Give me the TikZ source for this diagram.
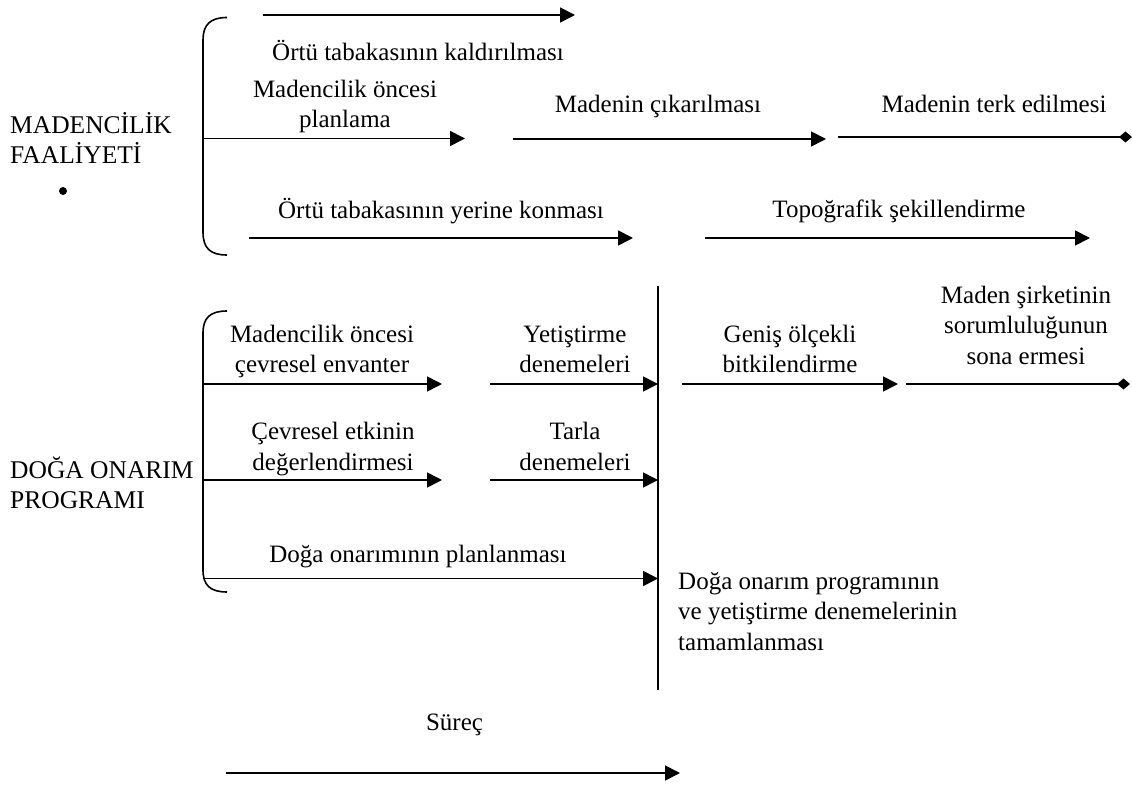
\documentclass[tikz,border=0pt]{standalone}
\usepackage{fontspec}
\setmainfont{Liberation Serif}
\usetikzlibrary{arrows.meta}
\begin{document}
\begin{tikzpicture}[x=1pt,y=-1pt,
  lbl/.style={font=\fontsize{25}{30.5}\selectfont, inner sep=0pt, anchor=base, align=center},
  side/.style={font=\fontsize{25.5}{30}\selectfont, inner sep=0pt, anchor=base west, align=left},
  arr/.style={line width=1.7pt, -{Triangle[length=15pt,width=15pt]}},
  dia/.style={line width=1.7pt, -{Diamond[length=13pt,width=11pt]}},
  brk/.style={line width=1.6pt},
  vline/.style={line width=1.1pt}]
\useasboundingbox (0,0) rectangle (1132,791);

% ---------- left titles ----------
\node[side] (mad) at (10,164) {MADENCİLİK\\FAALİYETİ};
\node[circle, fill, inner sep=0pt, minimum size=8pt] (dot) at (63,191) {};
\node[side] (dog) at (10,508) {DOĞA ONARIM\\PROGRAMI};

% ---------- brackets ----------
\coordinate (b1t) at (227,17.5);
\coordinate (b1b) at (227,255);
\draw[brk] (b1t) .. controls (210,17.5) and (203,25) .. (203,40) -- (203,232) .. controls (203,248) and (210,255) .. (b1b);
\coordinate (b2t) at (227,311);
\coordinate (b2b) at (227,592);
\draw[brk] (b2t) .. controls (210,311) and (203,318) .. (203,333) -- (203,570) .. controls (203,585) and (210,592) .. (b2b);

% ---------- upper section ----------
\coordinate (a1s) at (263,15);   \coordinate (a1e) at (575,15);
\draw[arr] (a1s) -- (a1e);
\node[lbl] (t1) at (418,61) {Örtü tabakasının kaldırılması};

\coordinate (a2s) at (203,138.5); \coordinate (a2e) at (465,138.5);
\draw[arr] (a2s) -- (a2e);
\node[lbl] (t2) at (345,128) {Madencilik öncesi\\planlama};

\coordinate (a3s) at (513,139); \coordinate (a3e) at (826,139);
\draw[arr] (a3s) -- (a3e);
\node[lbl] (t3) at (658,113) {Madenin çıkarılması};

\coordinate (a4s) at (838,137); \coordinate (a4e) at (1132,137);
\draw[dia] (a4s) -- (a4e);
\node[lbl] (t4) at (994,113) {Madenin terk edilmesi};

\coordinate (a5s) at (249,238); \coordinate (a5e) at (633,238);
\draw[arr] (a5s) -- (a5e);
\node[lbl] (t5) at (441,219) {Örtü tabakasının yerine konması};

\coordinate (a6s) at (705,238); \coordinate (a6e) at (1090,238);
\draw[arr] (a6s) -- (a6e);
\node[lbl] (t6) at (899,218) {Topoğrafik şekillendirme};

% ---------- lower section ----------
\coordinate (vt) at (658,286); \coordinate (vb) at (658,690);
\draw[vline] (vt) -- (vb);

\coordinate (b1s) at (203,384); \coordinate (b1e) at (442,384);
\draw[arr] (b1s) -- (b1e);
\node[lbl] (u1) at (322,373) {Madencilik öncesi\\çevresel envanter};

\coordinate (b2s) at (490,384); \coordinate (b2e) at (658,384);
\draw[arr] (b2s) -- (b2e);
\node[lbl] (u2) at (575,373) {Yetiştirme\\denemeleri};

\coordinate (b3s) at (682,384); \coordinate (b3e) at (898,384);
\draw[arr] (b3s) -- (b3e);
\node[lbl] (u3) at (790,373) {Geniş ölçekli\\bitkilendirme};

\coordinate (b4s) at (906,384); \coordinate (b4e) at (1130,384);
\draw[dia] (b4s) -- (b4e);
\node[lbl] (u4) at (1026,364) {Maden şirketinin\\sorumluluğunun\\sona ermesi};

\coordinate (c1s) at (203,480); \coordinate (c1e) at (442,480);
\draw[arr] (c1s) -- (c1e);
\node[lbl] (v1) at (333,470) {Çevresel etkinin\\değerlendirmesi};

\coordinate (c2s) at (490,480); \coordinate (c2e) at (658,480);
\draw[arr] (c2s) -- (c2e);
\node[lbl] (v2) at (575,470) {Tarla\\denemeleri};

\coordinate (d1s) at (203,578.5); \coordinate (d1e) at (658,578.5);
\draw[arr] (d1s) -- (d1e);
\node[lbl] (w1) at (418,562) {Doğa onarımının planlanması};

\node[side, font=\fontsize{25}{30.5}\selectfont] (w2) at (678,650) {Doğa onarım programının\\ve yetiştirme denemelerinin\\tamamlanması};

% ---------- process arrow ----------
\node[lbl] (sur) at (454.5,730) {Süreç};
\coordinate (ps) at (226,773); \coordinate (pe) at (680,773);
\draw[arr] (ps) -- (pe);
\end{tikzpicture}
\end{document}
